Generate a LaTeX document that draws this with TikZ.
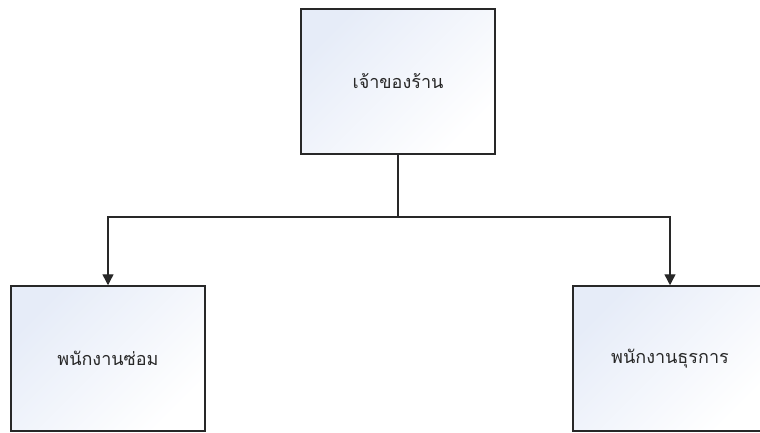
\documentclass[tikz,border=0pt]{standalone}
\usepackage{fontspec}
\newfontfamily\thaifont[Script=Thai]{Loma}
\usetikzlibrary{arrows.meta}
\definecolor{boxtint}{RGB}{230,236,248}
\definecolor{inkgray}{RGB}{40,40,40}

\begin{document}
\begin{tikzpicture}[x=1pt,y=-1pt,
    every node/.style={rectangle,draw=inkgray,line width=1.5pt,
      minimum width=194pt,minimum height=145pt,
      top color=boxtint,bottom color=white,shading angle=45,
      font=\thaifont\fontsize{18}{22}\selectfont,text=inkgray},
    conn/.style={draw=inkgray,line width=1.4pt,-{Triangle[length=11pt,width=11pt]}}]
    \clip (0,0) rectangle (760,432);
    \useasboundingbox (0,0) rectangle (760,432);

    \node (owner) at (398, 81.5) {เจ้าของร้าน};
    \node (repair) at (108, 358.5) {พนักงานซ่อม};
    \node (clerk) at (670, 358.5) {พนักงานธุรการ};
    \coordinate (split) at (398, 217);

    \draw[draw=inkgray,line width=1.4pt] (owner.south) -- (split);
    \path[conn] (split) -| (repair.north);
    \path[conn] (split) -| (clerk.north);
  \end{tikzpicture}
\end{document}
